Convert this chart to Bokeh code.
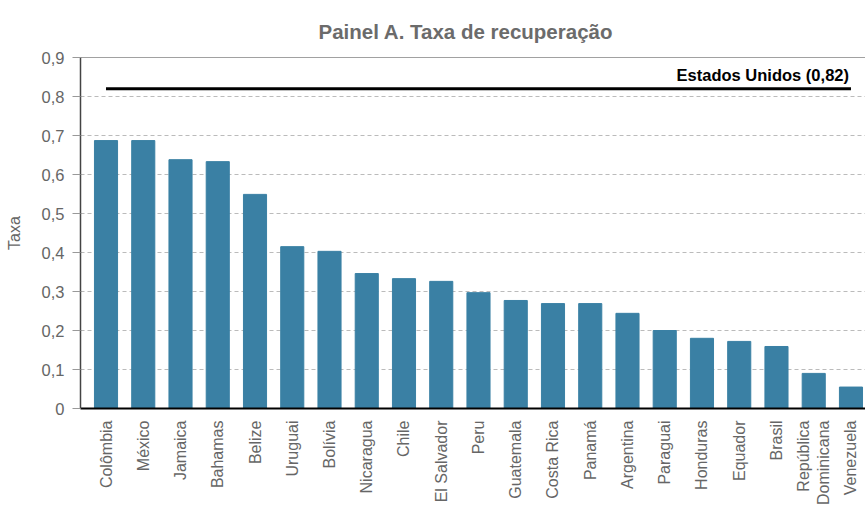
from bokeh.plotting import figure
from bokeh.models import Range1d, FixedTicker, Span, Label, Title
from bokeh.embed import file_html
from bokeh.resources import INLINE

countries = ["Colômbia", "México", "Jamaica", "Bahamas", "Belize", "Uruguai", "Bolívia",
             "Nicaragua", "Chile", "El Salvador", "Peru", "Guatemala", "Costa Rica", "Panamá",
             "Argentina", "Paraguai", "Honduras", "Equador", "Brasil", "República\nDominicana",
             "Venezuela"]
rates = [0.687, 0.687, 0.638, 0.633, 0.549, 0.415, 0.403, 0.346, 0.333, 0.326, 0.297,
         0.277, 0.269, 0.269, 0.244, 0.200, 0.180, 0.172, 0.159, 0.090, 0.055]
us_rate = 0.82
us_label = "Estados Unidos (0,82)"
y_ticks = [0, 0.1, 0.2, 0.3, 0.4, 0.5, 0.6, 0.7, 0.8, 0.9]
y_tick_labels = ["0", "0,1", "0,2", "0,3", "0,4", "0,5", "0,6", "0,7", "0,8", "0,9"]

FONT = "Liberation Sans"
GRAY = "#666666"
n = len(countries)
xs = list(range(n))

p = figure(width=865, height=507, output_backend="svg", toolbar_location=None,
           x_range=Range1d(-0.685, n - 1 + 0.39), y_range=Range1d(0, 0.9),
           min_border_left=80, min_border_right=0, min_border_top=57, min_border_bottom=99)
p.outline_line_color = None
p.background_fill_color = "white"
p.border_fill_color = "white"

t = Title(text="Painel A. Taxa de recuperação", align="left", vertical_align="top",
          text_font=FONT, text_font_size="20.5px", text_font_style="bold",
          text_color="#6b6b6b", offset=238, standoff=25)
p.add_layout(t, "above")

p.vbar(x=xs, top=rates, width=0.62, color="#3a80a4")

# top border
p.add_layout(Span(location=y_ticks[-1], dimension="width", line_color="#444444", line_width=1))

# US reference line
p.line(x=[xs[0], xs[-1]], y=[us_rate, us_rate], line_color="black", line_width=3)
p.add_layout(Label(x=xs[-1], y=us_rate, text=us_label, text_align="right",
                   text_baseline="bottom", x_offset=-2, y_offset=5, text_font=FONT,
                   text_font_size="16.5px", text_font_style="bold", text_color="black"))

# x axis
xa = p.xaxis[0]
xa.ticker = FixedTicker(ticks=xs)
xa.major_label_overrides = {i: c for i, c in enumerate(countries)}
xa.major_label_orientation = 3.14159265 / 2
xa.major_tick_line_color = None
xa.major_tick_out = 0
xa.minor_tick_line_color = None
xa.major_label_standoff = 12
xa.major_label_text_font = FONT
xa.major_label_text_font_size = "16px"
xa.major_label_text_color = GRAY
xa.axis_line_color = "black"
xa.axis_line_width = 2

# y axis
ya = p.yaxis[0]
ya.ticker = FixedTicker(ticks=y_ticks)
ya.major_label_overrides = {v: s for v, s in zip(y_ticks, y_tick_labels)}
ya.major_tick_out = 8
ya.major_tick_in = 0
ya.major_tick_line_color = "#999999"
ya.minor_tick_line_color = None
ya.major_label_standoff = 8
ya.major_label_text_font = FONT
ya.major_label_text_font_size = "16.5px"
ya.major_label_text_color = GRAY
ya.axis_line_color = "#444444"
ya.axis_line_width = 1.5
ya.axis_label = "Taxa"
ya.axis_label_text_font = FONT
ya.axis_label_text_font_size = "16px"
ya.axis_label_text_font_style = "normal"
ya.axis_label_text_color = GRAY
ya.axis_label_standoff = 16

p.xgrid.grid_line_color = None
p.ygrid.grid_line_color = "#bbbbbb"
p.ygrid.grid_line_dash = "4 3"
p.ygrid.ticker = FixedTicker(ticks=y_ticks[1:-1])

open("out.html", "w").write(file_html(p, INLINE))
